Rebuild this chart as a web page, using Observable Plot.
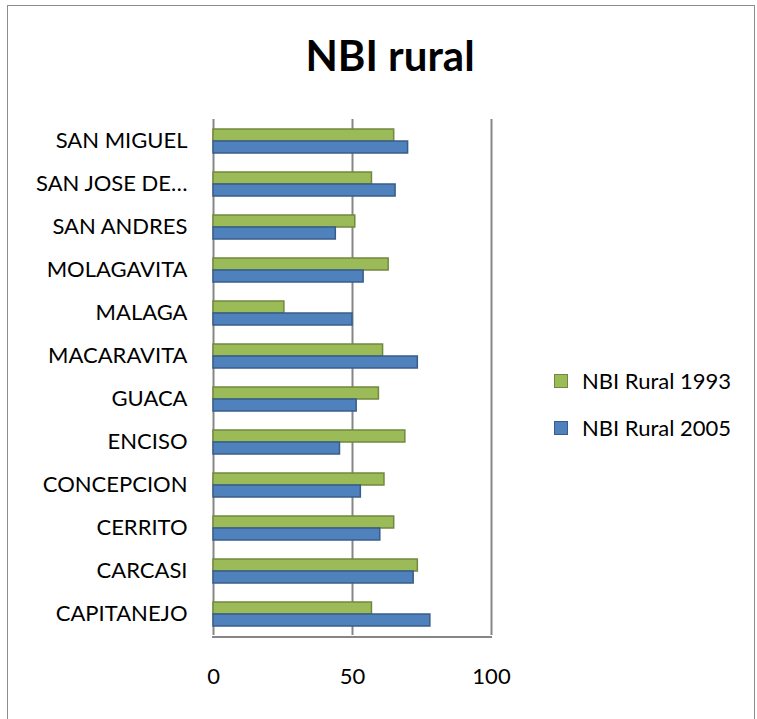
<!DOCTYPE html>
<html>
<head>
<meta charset="utf-8">
<script src="https://cdn.jsdelivr.net/npm/d3@7"></script>
<script src="https://cdn.jsdelivr.net/npm/@observablehq/plot@0.6"></script>
<style>
  html, body { margin: 0; padding: 0; background: #fff; }
  #wrap { position: relative; width: 757px; height: 719px; overflow: hidden; font-family: Lato, "Open Sans", sans-serif; }
  #border { position: absolute; left: 7px; top: 5px; width: 748px; height: 730px; border: 1.5px solid #8c8c8c; box-sizing: border-box; }
  #title { position: absolute; left: 0; width: 780px; top: 34px; text-align: center; font-size: 42px; font-weight: bold; line-height: 1; color: #000; }
  #chart { position: absolute; left: 0; top: 0; }
  .leg { position: absolute; left: 554px; font-size: 22px; line-height: 1; color: #000; white-space: nowrap; }
  .sw { display: inline-block; width: 12px; height: 12px; border: 1.5px solid; vertical-align: middle; margin-right: 14px; position: relative; top: -2px; }
</style>
</head>
<body>
<div id="wrap">
  <div id="border"></div>
  <div id="chart"></div>
  <div id="title">NBI rural</div>
  <div class="leg" style="top:370px"><span class="sw" style="background:#9BBB59;border-color:#71893F"></span>NBI Rural 1993</div>
  <div class="leg" style="top:417px"><span class="sw" style="background:#4F81BD;border-color:#385D8A"></span>NBI Rural 2005</div>
</div>
<script>
const categories = ["SAN MIGUEL","SAN JOSE DE…","SAN ANDRES","MOLAGAVITA","MALAGA","MACARAVITA","GUACA","ENCISO","CONCEPCION","CERRITO","CARCASI","CAPITANEJO"];
const series = ["NBI Rural 1993","NBI Rural 2005"];
const nbi1993 = [65,57,51,63,25.5,61,59.5,69,61.5,65,73.5,57];
const nbi2005 = [70,65.5,44,54,50,73.5,51.5,45.5,53,60,72,78];
const xTicks = [0,50,100];

const data = [];
categories.forEach((c, i) => {
  data.push({cat: c, series: series[0], value: nbi1993[i]});
  data.push({cat: c, series: series[1], value: nbi2005[i]});
});

const W = 757, H = 719, mL = 213, mR = 266, mT = 117, mB = 82;
const plot = Plot.plot({
  width: W, height: H,
  marginLeft: mL, marginRight: mR, marginTop: mT, marginBottom: mB,
  style: {fontFamily: "Lato, 'Open Sans', sans-serif", fontSize: "22px", color: "#000", background: "transparent", overflow: "visible"},
  x: {domain: [0, 100], ticks: xTicks, tickSize: 0, tickPadding: 33, label: null},
  y: {domain: series, paddingInner: 0, paddingOuter: 0.73, axis: null},
  fy: {domain: categories, padding: 0, tickSize: 0, tickPadding: 26, label: null, axis: "left"},
  color: {domain: series, range: ["#9BBB59", "#4F81BD"]},
  marks: [
    Plot.ruleX(xTicks, {stroke: "#868686", strokeWidth: 2}),
    Plot.barX(data, {fy: "cat", y: "series", x: "value", fill: "series",
      stroke: d => d.series === series[0] ? "#71893F" : "#385D8A", strokeWidth: 1.5})
  ]
});
document.getElementById("chart").appendChild(plot);
// bottom axis line of plot area
const xs = plot.scale("x").range;
d3.select(plot).append("line")
  .attr("x1", xs[0] - 1).attr("x2", xs[1] + 1)
  .attr("y1", H - mB).attr("y2", H - mB)
  .attr("stroke", "#868686").attr("stroke-width", 2);
</script>
</body>
</html>
